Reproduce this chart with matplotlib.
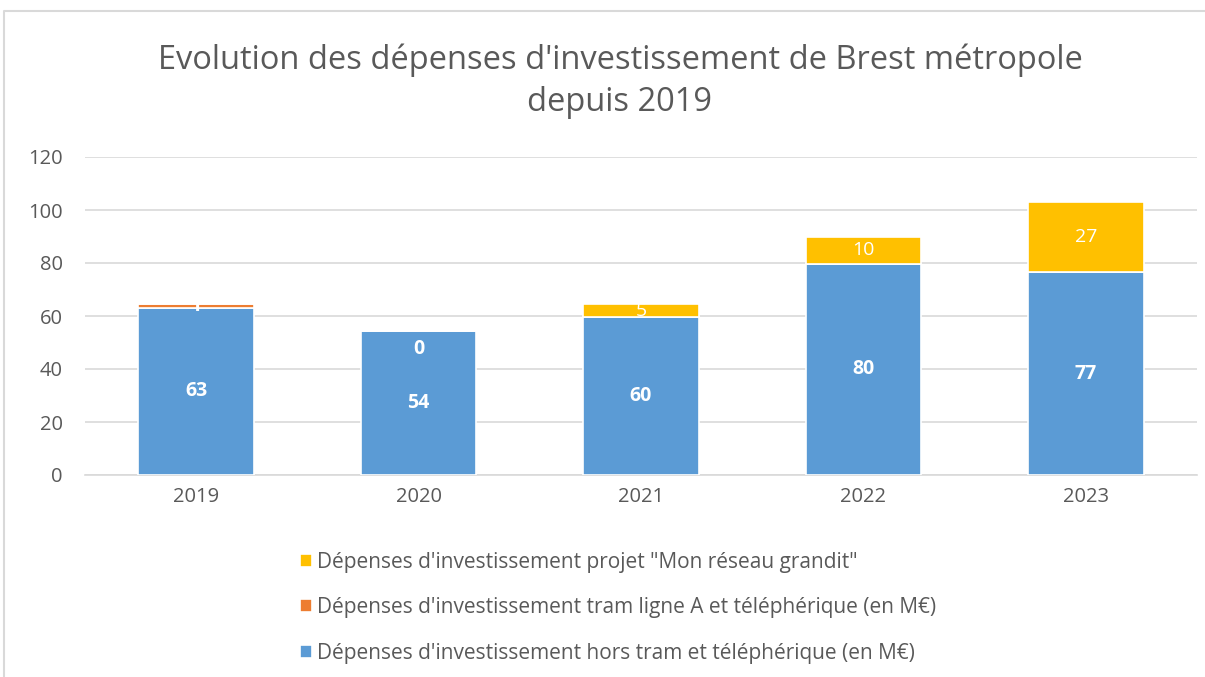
import matplotlib.pyplot as plt
from matplotlib.lines import Line2D
import numpy as np

plt.rcParams['font.family'] = ['Open Sans', 'DejaVu Sans']

# Data (M€)
years = ["2019", "2020", "2021", "2022", "2023"]
hors_tram = [63.2, 54.2, 59.6, 79.8, 76.6]
tram_ligne_a = [1.3, 0.0, 0.0, 0.0, 0.0]
mon_reseau = [0.0, 0.0, 4.8, 10.0, 26.5]

hors_labels = ["63", "54", "60", "80", "77"]
tram_labels = ["1", "0", "", "", ""]
reseau_labels = ["", "", "5", "10", "27"]

c_blue = "#5b9bd5"
c_orange = "#ed7d31"
c_yellow = "#ffc000"
grey = "#595959"

fig = plt.figure(figsize=(12.05, 6.77), dpi=100)
ax = fig.add_axes([85 / 1205, 1 - 475 / 677, 1112 / 1205, 318 / 677])

x = np.arange(len(years))
w = 0.52
b1 = ax.bar(x, hors_tram, w, color=c_blue, edgecolor="white", linewidth=1.2,
            label="Dépenses d'investissement hors tram et téléphérique (en M€)", zorder=3)
bottom2 = np.array(hors_tram)
b2 = ax.bar(x, tram_ligne_a, w, bottom=bottom2, color=c_orange, edgecolor="white", linewidth=1.2,
            label="Dépenses d'investissement tram ligne A et téléphérique (en M€)", zorder=3)
bottom3 = bottom2 + np.array(tram_ligne_a)
b3 = ax.bar(x, mon_reseau, w, bottom=bottom3, color=c_yellow, edgecolor="white", linewidth=1.2,
            label="Dépenses d'investissement projet \"Mon réseau grandit\"", zorder=3)

# data labels
for i in range(len(years)):
    ax.text(x[i], hors_tram[i] / 2, hors_labels[i], ha="center", va="center",
            color="white", fontsize=14, fontweight="bold", zorder=5)
    if tram_labels[i]:
        yv = bottom2[i] + tram_ligne_a[i] / 2
        if tram_ligne_a[i] == 0:
            yv = bottom2[i] - 6.5
        ax.text(x[i], yv, tram_labels[i], ha="center", va="center",
                color="white", fontsize=14, fontweight="bold", zorder=5)
    if reseau_labels[i]:
        ax.text(x[i], bottom3[i] + mon_reseau[i] / 2, reseau_labels[i], ha="center", va="center",
                color="white", fontsize=14, zorder=5)

ax.set_xlim(-0.5, len(years) - 0.5)
ax.set_ylim(0, 120)
ax.set_yticks(range(0, 121, 20))
ax.set_xticks(x)
ax.set_xticklabels(years)
ax.tick_params(axis="both", length=0, labelsize=14.5, colors=grey)
ax.tick_params(axis="x", pad=9)
ax.tick_params(axis="y", pad=16)
ax.grid(axis="y", color="#d9d9d9", linewidth=1.2, zorder=0)
for s in ["top", "right", "left"]:
    ax.spines[s].set_visible(False)
ax.spines["bottom"].set_color("#d9d9d9")
ax.spines["bottom"].set_linewidth(1.2)

fig.text(620 / 1205, 1 - 81 / 677,
         "Evolution des dépenses d'investissement de Brest métropole\ndepuis 2019",
         ha="center", va="center", fontsize=23.5, color=grey, linespacing=1.35)

fig.legend(handles=[b3, b2, b1], loc="upper left",
           bbox_to_anchor=(281 / 1205, 1 - 533 / 677), frameon=False,
           fontsize=15, labelcolor=grey, handlelength=0.6, handleheight=0.6,
           handletextpad=0.25, labelspacing=1.17)

# chart border (partly cropped)
fig.add_artist(Line2D([4 / 1205, 4 / 1205, 1], [0, 1 - 11 / 677, 1 - 11 / 677],
                      transform=fig.transFigure, color="#d9d9d9", linewidth=1.5))

fig.savefig("out.png", dpi=100)
